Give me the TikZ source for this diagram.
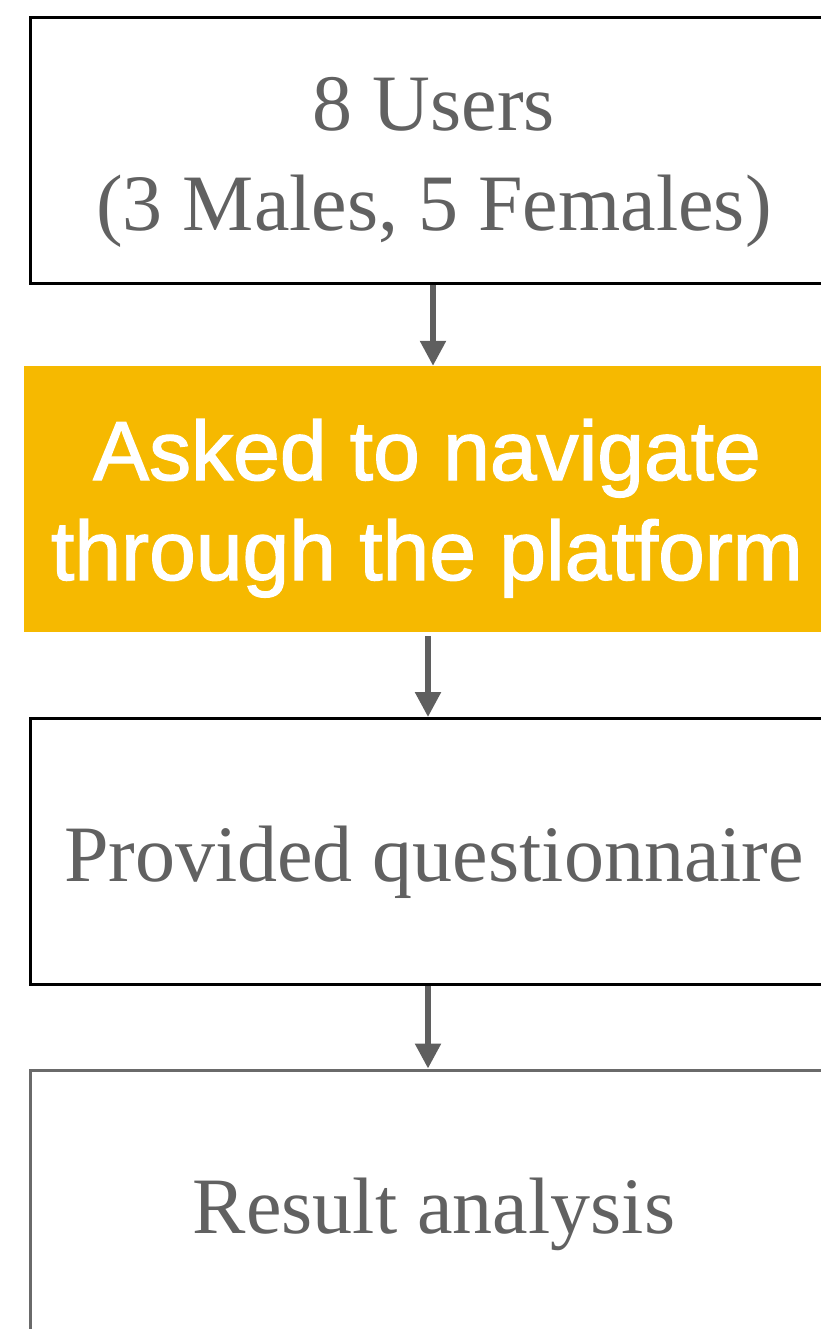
\documentclass[tikz,border=0pt]{standalone}
\usepackage{fontspec}
\setmainfont{Liberation Serif}
\newfontfamily\flowsans[FakeBold=1.5]{Liberation Sans}
\usetikzlibrary{arrows.meta}

\definecolor{txtgray}{HTML}{616161}
\definecolor{arrowgray}{HTML}{5F5F5F}
\definecolor{lastgray}{HTML}{6A6A6A}
\definecolor{taskyellow}{HTML}{F6B900}

\tikzset{
    stepbox/.style={draw=black, line width=3pt, minimum width=808pt, minimum height=266pt,
        inner sep=0pt, align=center, text=txtgray, text height=60pt, text depth=0pt,
        font=\fontsize{80}{100}\selectfont},
    taskbox/.style={fill=taskyellow, minimum width=806pt, minimum height=266pt,
        inner sep=0pt, align=center, text=white, text height=162pt, text depth=0pt,
        font=\flowsans\fontsize{84}{100}\selectfont}, 
    flowarrow/.style={draw=arrowgray, line width=5.5pt,
        -{Triangle[width=25pt,length=25pt]}}
}

\begin{document}
\begin{tikzpicture}[x=1pt,y=1pt]
    \useasboundingbox (0,0) rectangle (820,-1329);
    % the four steps
    \node[stepbox, text height=161pt] (users) at (434,-150.5) {8 Users\\(3 Males, 5 Females)};
    \node[taskbox] (navigate) at (427,-499) {Asked to navigate\\through the platform};
    \node[stepbox] (questionnaire) at (434,-851.5) {Provided questionnaire};
    \node[stepbox, draw=lastgray] (analysis) at (434,-1203) {Result analysis};
    % arrows
    \coordinate (colA) at (433,0);
    \coordinate (colB) at (428,0);
    \draw[flowarrow] (users.south -| colA) -- (navigate.north -| colA);
    \draw[flowarrow] ([yshift=-4pt]navigate.south -| colB) -- (questionnaire.north -| colB);
    \draw[flowarrow] (questionnaire.south -| colB) -- (analysis.north -| colB);
\end{tikzpicture}
\end{document}
